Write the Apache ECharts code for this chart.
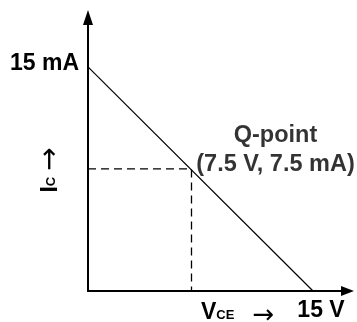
<!DOCTYPE html>
<html>
<head>
<meta charset="utf-8">
<script src="https://cdn.jsdelivr.net/npm/echarts@6/dist/echarts.min.js"></script>
<style>
  html, body { margin: 0; padding: 0; background: #fff; }
  #chart { width: 357px; height: 322px; }
</style>
</head>
<body>
<div id="chart"></div>
<script>
// load line end points (V, mA) and the operating point
const loadLine = [[0, 15], [15, 0]];
const qPoint = [6.9, 8.17];
const qLabel = ['Q-point', '(7.5 V, 7.5 mA)'];
const xTickValue = 15, xTickLabel = '15 V';
const yTickValue = 15, yTickLabel = '15 mA';
const xMax = 17.3, yMax = 18.3;

const font = "'Liberation Sans', Arial, sans-serif";
const arrowFont = "'DejaVu Sans', sans-serif";
const chart = echarts.init(document.getElementById('chart'));

const dashed = [[0, qPoint[1]], qPoint, [qPoint[0], 0]];

const option = {
  animation: false,
  grid: { left: 88, right: 9.5, top: 17.5, bottom: 30 },
  xAxis: {
    type: 'value', min: 0, max: xMax, interval: 15,
    splitLine: { show: false },
    axisTick: { show: false },
    axisLine: {
      lineStyle: { color: '#000', width: 2 },
      symbol: ['none', 'triangle'], symbolSize: [10, 13]
    },
    axisLabel: {
      margin: 8, color: '#000', fontFamily: font, fontWeight: 'bold', fontSize: 23,
      padding: [0, 0, 0, 16],
      formatter: v => v === xTickValue ? xTickLabel : ''
    }
  },
  yAxis: {
    type: 'value', min: 0, max: yMax, interval: 15,
    splitLine: { show: false },
    axisTick: { show: false },
    axisLine: {
      lineStyle: { color: '#000', width: 2 },
      symbol: ['none', 'triangle'], symbolSize: [10, 15]
    },
    axisLabel: {
      margin: 9, color: '#000', fontFamily: font, fontWeight: 'bold', fontSize: 23,
      verticalAlign: 'bottom', lineHeight: 7,
      formatter: v => v === yTickValue ? yTickLabel : ''
    }
  },
  series: [
    {
      type: 'line', data: loadLine, symbol: 'none',
      lineStyle: { color: '#000', width: 1.2 }
    },
    {
      type: 'line', data: dashed, symbol: 'none',
      lineStyle: { color: '#000', width: 1.3, type: [8, 5] }
    },
    {
      type: 'scatter', data: [qPoint], symbolSize: 0,
      label: {
        show: true, position: [84, 10], align: 'center', verticalAlign: 'bottom',
        color: '#000', fontFamily: font, fontWeight: 'bold', fontSize: 23.5, lineHeight: 29,
        formatter: () => qLabel.join('\n')
      }
    }
  ],
  graphic: [
    {
      type: 'text', x: 201, y: 313,
      style: {
        text: '{m|V}{s|CE}{g| }{a|→}',
        verticalAlign: 'middle', fill: '#000',
        rich: {
          m: { fontFamily: font, fontWeight: 'bold', fontSize: 23 },
          s: { fontFamily: font, fontWeight: 'bold', fontSize: 13, padding: [5, 0, 0, 0] },
          g: { fontFamily: font, fontSize: 23, width: 18 },
          a: { fontFamily: arrowFont, fontSize: 26, padding: [6, 0, 0, 0] }
        }
      }
    },
    {
      type: 'text', x: 51, y: 170, rotation: Math.PI / 2,
      style: {
        text: '{m|I}{s|C}{g| }{a|→}',
        align: 'center', verticalAlign: 'middle', fill: '#000',
        rich: {
          m: { fontFamily: font, fontWeight: 'bold', fontSize: 23 },
          s: { fontFamily: font, fontWeight: 'bold', fontSize: 13 },
          g: { fontFamily: font, fontSize: 23, width: 6 },
          a: { fontFamily: arrowFont, fontSize: 28 }
        }
      }
    }
  ]
};

chart.setOption(option);
window.addEventListener('resize', () => chart.resize());
</script>
</body>
</html>
